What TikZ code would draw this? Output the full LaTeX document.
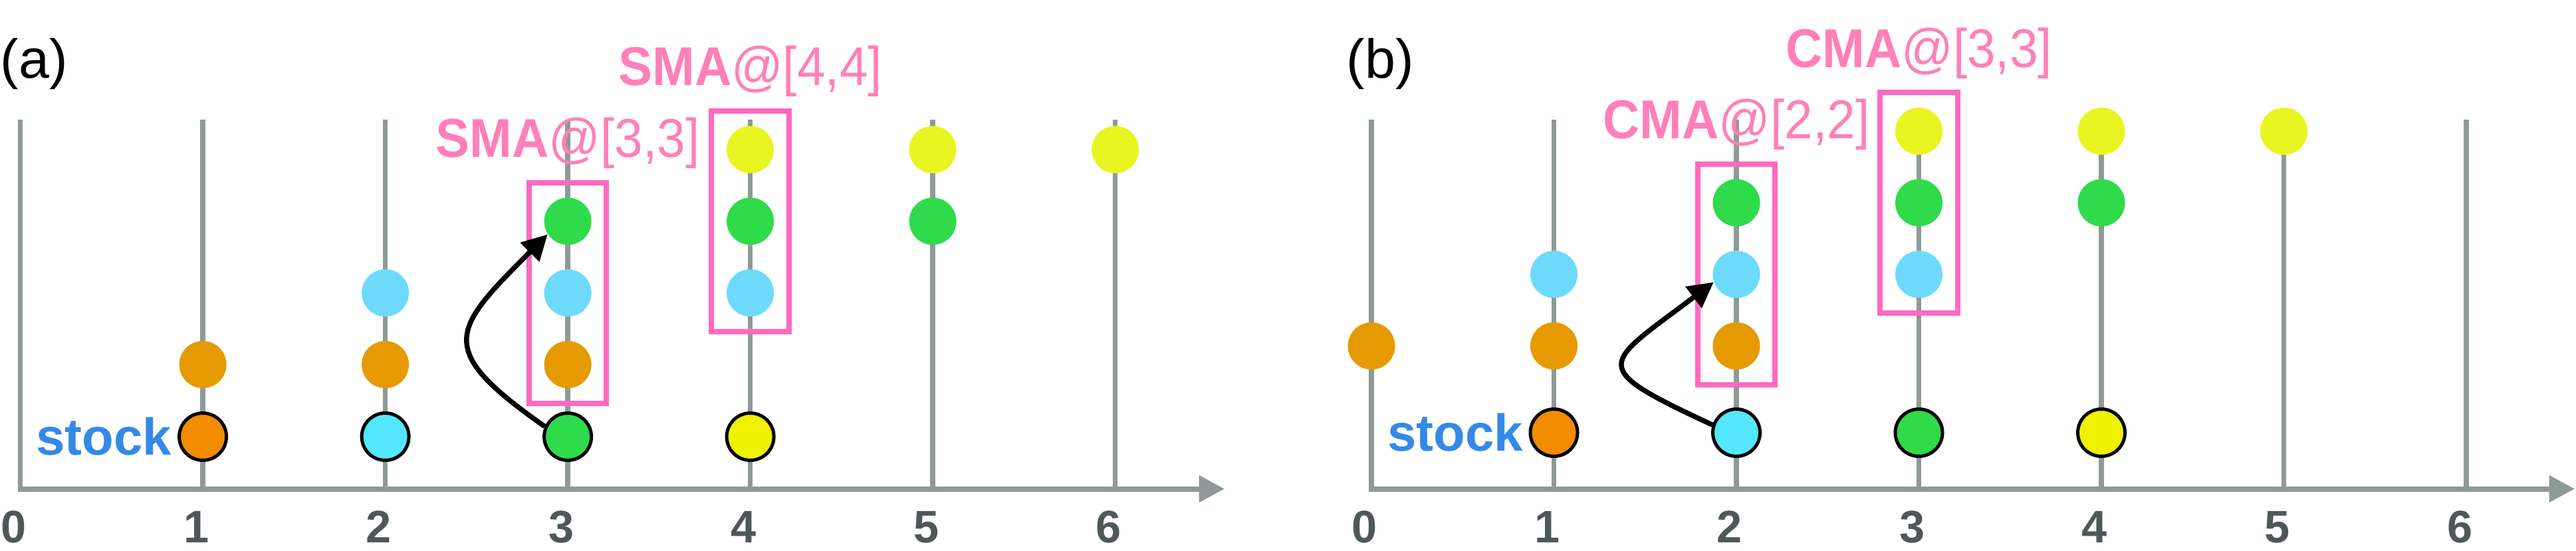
\documentclass[tikz,border=0pt]{standalone}
\usepackage{fontspec}
\setmainfont{Liberation Sans}
\newfontfamily\lblfont[FakeStretch=0.93]{Liberation Sans}
\usepackage{tikz}
\usetikzlibrary{arrows.meta,positioning,fit,calc}

\definecolor{gridgray}{HTML}{8E9A97}
\definecolor{tickgray}{HTML}{4F5858}
\definecolor{boxpink}{HTML}{FF69C0}
\definecolor{textpink}{HTML}{FF80B8}
\definecolor{stockblue}{HTML}{3489E8}
\definecolor{row1}{HTML}{E69A02}
\definecolor{row2}{HTML}{6DDAFC}
\definecolor{row3}{HTML}{2FDB4A}
\definecolor{row4}{HTML}{E9F520}
\definecolor{stock1}{HTML}{F38D00}
\definecolor{stock2}{HTML}{55E7FD}
\definecolor{stock3}{HTML}{2FDB4A}
\definecolor{stock4}{HTML}{EEF200}

\tikzset{
  gridline/.style={draw=gridgray, line width=0.075cm},
  axisline/.style={draw=gridgray, line width=0.08cm, -{Triangle[length=0.385cm,width=0.39cm]}},
  dot/.style={circle, minimum size=0.71cm, inner sep=0pt},
  stockdot/.style={dot, draw=black, line width=0.05cm},
  winbox/.style={draw=boxpink, line width=0.08cm, inner sep=0.22cm},
  winlabel/.style={text=textpink, font=\lblfont\fontsize{23.4pt}{28pt}\selectfont, anchor=base, inner sep=0pt},
  ticklabel/.style={text=tickgray, font=\bfseries\fontsize{19.5pt}{24pt}\selectfont, anchor=base, inner sep=0pt},
  stocklabel/.style={text=stockblue, font=\bfseries\fontsize{22.2pt}{26pt}\selectfont, inner sep=0.08cm},
  panellabel/.style={font=\fontsize{23.5pt}{28pt}\selectfont, anchor=base west, inner sep=0pt},
  jump/.style={draw=black, line width=0.075cm, -{Triangle[length=0.38cm,width=0.39cm]}}
}

\begin{document}
\begin{tikzpicture}
  \useasboundingbox (0,0) rectangle (38.75,8.28);
  % Panel (a)
  \node[panellabel] (pa) at (0,7.105) {(a)};
  \foreach \i in {0,...,6}{
    \draw[gridline] (0.306+2.745*\i,0.925) -- (0.306+2.745*\i,6.475);
    \node[ticklabel] (ta\i) at (0.206+2.745*\i,0.12) {\i};
  }
  \draw[axisline] (0.27,0.925) -- (18.42,0.925);
  % stock prices
  \foreach \i in {1,...,4}
    \node[stockdot, fill=stock\i] (as\i) at (0.306+2.745*\i,1.71) {};
  % moving windows
  \foreach \c/\r in {1/1,2/1,2/2,3/1,3/2,3/3,4/2,4/3,4/4,5/3,5/4,6/4}
    \node[dot, fill=row\r] (a\c-\r) at (0.306+2.745*\c,2.795+1.078*\r-1.078) {};
  \node[winbox, fit=(a3-1) (a3-3)] (wa3) {};
  \node[winbox, fit=(a4-2) (a4-4)] (wa4) {};
  \node[winlabel] (la3) at ($(wa3.north)+(0,0.34)$) {\textbf{SMA}@[3,3]};
  \node[winlabel] (la4) at ($(wa4.north)+(0,0.34)$) {\textbf{SMA}@[4,4]};
  \node[stocklabel, left=0cm of as1] (sta) {stock};
  \draw[jump] (as3.156) to[out=145, in=225, looseness=1.8] (a3-3.213);

  % Panel (b)
  \node[panellabel] (pb) at (20.25,7.105) {(b)};
  \foreach \i in {0,...,6}{
    \draw[gridline] (20.63+2.745*\i,0.925) -- (20.63+2.745*\i,6.475);
    \node[ticklabel] (tb\i) at (20.53+2.745*\i,0.12) {\i};
  }
  \draw[axisline] (20.593,0.925) -- (38.73,0.925);
  % stock prices
  \foreach \i in {1,...,4}
    \node[stockdot, fill=stock\i] (bs\i) at (20.63+2.745*\i,1.77) {};
  % cumulative windows
  \foreach \c/\r in {0/1,1/1,1/2,2/1,2/2,2/3,3/2,3/3,3/4,4/3,4/4,5/4}
    \node[dot, fill=row\r] (b\c-\r) at (20.63+2.745*\c,3.075+1.077*\r-1.077) {};
  \node[winbox, fit=(b2-1) (b2-3)] (wb2) {};
  \node[winbox, fit=(b3-2) (b3-4)] (wb3) {};
  \node[winlabel] (lb2) at ($(wb2.north)+(0,0.34)$) {\textbf{CMA}@[2,2]};
  \node[winlabel] (lb3) at ($(wb3.north)+(0,0.34)$) {\textbf{CMA}@[3,3]};
  \node[stocklabel, left=0cm of bs1] (stb) {stock};
  \draw[jump] (bs2.162) to[out=155, in=217, looseness=2.5] (b2-2.199);
\end{tikzpicture}
\end{document}
